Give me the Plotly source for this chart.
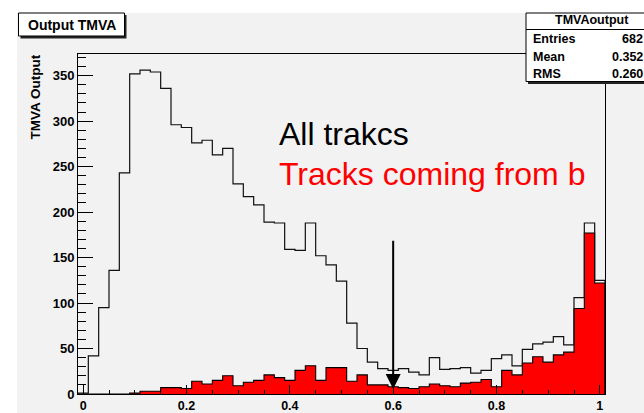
import plotly.graph_objects as go

# ---------------- data ----------------
HIST_XMIN = -0.01
BIN_WIDTH = 0.02
all_tracks = [1, 42, 95, 136, 243, 352, 356, 354, 336, 296, 293, 276, 279, 263, 270, 231,
              217, 208, 189, 188, 159, 158, 188, 152, 142, 124, 78, 50, 35, 28, 26, 28,
              24, 21, 40, 27, 28, 29, 23, 26, 39, 43, 31, 49, 55, 57, 63, 54, 106, 188, 125]
b_tracks = [0, 0, 0, 0, 0, 1, 3, 3, 7, 7, 6, 14, 11, 15, 20, 9,
            13, 15, 21, 18, 15, 26, 31, 15, 29, 29, 14, 21, 10, 10, 8, 7,
            6, 8, 11, 9, 8, 12, 13, 16, 8, 26, 21, 34, 41, 35, 43, 46, 94, 177, 122]
x_tickvals = [0, 0.2, 0.4, 0.6, 0.8, 1.0]
x_ticktext = ["0", "0.2", "0.4", "0.6", "0.8", "1"]
cut_value = 0.6
stats_rows = [("Entries", "682"), ("Mean", "0.352"), ("RMS", "0.260")]

# ------------- geometry helpers (pixel -> paper) -------------
W, H = 644, 413
ML, MR, MT, MB = 78, 39, 54, 19
PW, PH = W - ML - MR, H - MT - MB


def px(x):
    return (x - ML) / PW


def py(y):
    return (H - MB - y) / PH


def step_xy(values, close=True):
    n = len(values)
    edges = [HIST_XMIN + BIN_WIDTH * i for i in range(n + 1)]
    xs, ys = [edges[0]], [0]
    for i, v in enumerate(values):
        xs.append(edges[i]); ys.append(v)
    xs.append(edges[n]); ys.append(values[-1])
    if close:
        xs.append(edges[n]); ys.append(0)
    return xs, ys


BOLD = "Liberation Sans Narrow, Arial Narrow, Liberation Sans, Arial, sans-serif"
SANS = "Liberation Sans, Arial, Helvetica, sans-serif"
GRAY = "#f2f2f2"

fig = go.Figure()

xb, yb = step_xy(b_tracks)
fig.add_trace(go.Scatter(x=xb, y=yb, mode="lines",
                         line=dict(shape="hv", color="black", width=1.1, simplify=False),
                         fill="tozeroy", fillcolor="#ff0000", hoverinfo="skip", showlegend=False))
xa, ya = step_xy(all_tracks)
fig.add_trace(go.Scatter(x=xa, y=ya, mode="lines",
                         line=dict(shape="hv", color="#111111", width=1.2, simplify=False),
                         hoverinfo="skip", showlegend=False))

xmax = HIST_XMIN + BIN_WIDTH * len(all_tracks)
ymax = 1.05 * max(all_tracks)

shapes = []
# white strips outside the ROOT canvas
shapes.append(dict(type="rect", xref="paper", yref="paper", x0=px(0), x1=px(W), y0=py(13), y1=py(0),
                   fillcolor="white", line=dict(width=0), layer="below"))
shapes.append(dict(type="rect", xref="paper", yref="paper", x0=px(0), x1=px(17), y0=py(H), y1=py(0),
                   fillcolor="white", line=dict(width=0), layer="below"))
# title box with shadow
shapes.append(dict(type="rect", xref="paper", yref="paper", x0=px(20.5), x1=px(126.5), y0=py(38.5), y1=py(15),
                   fillcolor="#222222", line=dict(width=0)))
shapes.append(dict(type="rect", xref="paper", yref="paper", x0=px(18.5), x1=px(124.5), y0=py(36), y1=py(13),
                   fillcolor="white", line=dict(color="black", width=1)))
# stats box with shadow
shapes.append(dict(type="rect", xref="paper", yref="paper", x0=px(528), x1=px(660), y0=py(84), y1=py(15),
                   fillcolor="#222222", line=dict(width=0)))
shapes.append(dict(type="rect", xref="paper", yref="paper", x0=px(526), x1=px(660), y0=py(81.5), y1=py(13),
                   fillcolor="white", line=dict(color="black", width=1)))
shapes.append(dict(type="line", xref="paper", yref="paper", x0=px(526), x1=px(660), y0=py(29.5), y1=py(29.5),
                   line=dict(color="black", width=1)))

annotations = []
annotations.append(dict(text="Output TMVA", xref="paper", yref="paper", x=px(71.5), y=py(24.5),
                        xanchor="center", yanchor="middle", showarrow=False,
                        font=dict(family=BOLD, size=14, color="black", weight="bold")))
annotations.append(dict(text="TMVAoutput", xref="paper", yref="paper", x=px(591.5), y=py(20.5),
                        xanchor="center", yanchor="middle", showarrow=False,
                        font=dict(family=BOLD, size=12.5, color="black", weight="bold")))
row_y = [39.5, 57, 74]
for (lab, val), yy in zip(stats_rows, row_y):
    annotations.append(dict(text=lab, xref="paper", yref="paper", x=px(531), y=py(yy),
                            xanchor="left", yanchor="middle", showarrow=False,
                            font=dict(family=BOLD, size=12.5, color="black", weight="bold")))
    annotations.append(dict(text=val, xref="paper", yref="paper", x=px(645), y=py(yy),
                            xanchor="right", yanchor="middle", showarrow=False,
                            font=dict(family=BOLD, size=12.5, color="black", weight="bold")))
# y-axis title
annotations.append(dict(text="TMVA Output", xref="paper", yref="paper", x=px(35), y=py(97.5),
                        xanchor="center", yanchor="middle", textangle=-90, showarrow=False,
                        font=dict(family=SANS, size=13.5, color="black", weight="bold")))
# legend-like labels
annotations.append(dict(text="All trakcs", xref="paper", yref="paper", x=px(277), y=py(133.5),
                        xanchor="left", yanchor="middle", showarrow=False,
                        font=dict(family=SANS, size=32, color="black")))
annotations.append(dict(text="Tracks coming from b", xref="paper", yref="paper", x=px(277), y=py(174),
                        xanchor="left", yanchor="middle", showarrow=False,
                        font=dict(family=SANS, size=32, color="#ff0000")))
# cut arrow
annotations.append(dict(text="", x=cut_value, y=5.5, xref="x", yref="y",
                        ax=cut_value, ay=170, axref="x", ayref="y", showarrow=True,
                        arrowhead=2, arrowwidth=2, arrowsize=1.5, arrowcolor="black", standoff=0))

fig.update_layout(
    width=W, height=H, autosize=False,
    margin=dict(l=ML, r=MR, t=MT, b=MB, pad=0),
    paper_bgcolor=GRAY, plot_bgcolor=GRAY,
    shapes=shapes, annotations=annotations,
    xaxis=dict(range=[HIST_XMIN, xmax], tickvals=x_tickvals, ticktext=x_ticktext,
               ticks="inside", ticklen=9, tickwidth=1, tickcolor="black",
               minor=dict(dtick=0.05, tick0=0, ticks="inside", ticklen=4, tickcolor="black"),
               showline=True, mirror=True, linecolor="black", linewidth=1,
               showgrid=False, zeroline=False, automargin=False,
               tickfont=dict(family=SANS, size=12.5, color="black", weight="bold")),
    yaxis=dict(range=[0, ymax], dtick=50, tick0=0,
               ticks="inside", ticklen=15, tickwidth=1, tickcolor="black",
               minor=dict(dtick=10, tick0=0, ticks="inside", ticklen=8, tickcolor="black"),
               showline=True, mirror=True, linecolor="black", linewidth=1,
               showgrid=False, zeroline=False, automargin=False,
               tickfont=dict(family=SANS, size=13, color="black", weight="bold")),
)

fig.write_html("out.html")
